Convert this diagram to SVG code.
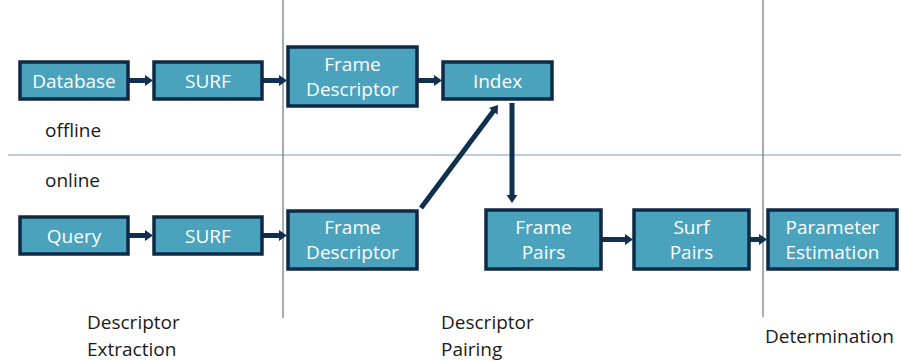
<svg xmlns="http://www.w3.org/2000/svg" width="901" height="361" viewBox="0 0 901 361">
  <style>
    .box { fill: #4aa2bd; stroke: #0e2a47; stroke-width: 3.5; }
    .btxt { font-family: "Open Sans", "Liberation Sans", sans-serif; font-size: 19px; fill: #ffffff; text-anchor: middle; }
    .lbl { font-family: "Open Sans", "Liberation Sans", sans-serif; font-size: 19px; fill: #1a1a1a; }
    .conn { stroke: #10304f; stroke-width: 5; fill: none; marker-end: url(#head); }
    .sep { stroke: #555a60; stroke-width: 1; }
    .split { stroke: #a9bccf; stroke-width: 1.5; }
  </style>
  <defs>
    <marker id="head" markerWidth="2" markerHeight="4" refX="0.6" refY="2" orient="auto" markerUnits="strokeWidth">
      <path d="M0,0.9 L1.6,2 L0,3.1 Z" fill="#10304f"/>
    </marker>
  </defs>
  <rect width="901" height="361" fill="#ffffff"/>

  <!-- stage separators -->
  <g id="separators">
    <line class="split" x1="8" y1="155" x2="901" y2="155"/>
    <line class="sep" x1="283" y1="0" x2="283" y2="318"/>
    <line class="sep" x1="763" y1="0" x2="763" y2="317"/>
  </g>

  <!-- connectors -->
  <g id="connectors">
    <line class="conn" x1="128" y1="80.5" x2="148" y2="80.5"/>
    <line class="conn" x1="262" y1="80.5" x2="282" y2="80.5"/>
    <line class="conn" x1="417" y1="80.5" x2="437" y2="80.5"/>
    <line class="conn" x1="128" y1="235.5" x2="148" y2="235.5"/>
    <line class="conn" x1="262" y1="235.5" x2="282" y2="235.5"/>
    <line class="conn" x1="601" y1="239.5" x2="628" y2="239.5"/>
    <line class="conn" x1="749" y1="239.5" x2="762" y2="239.5"/>
    <line class="conn" x1="421" y1="208" x2="495" y2="109"/>
    <line class="conn" x1="512" y1="103" x2="512" y2="198"/>
  </g>

  <!-- offline pipeline -->
  <g id="database">
    <rect class="box" x="20" y="62" width="108" height="37"/>
    <text class="btxt" x="74" y="88">Database</text>
  </g>
  <g id="surf-offline">
    <rect class="box" x="154" y="62" width="108" height="37"/>
    <text class="btxt" x="208" y="88">SURF</text>
  </g>
  <g id="frame-descriptor-offline">
    <rect class="box" x="288" y="47" width="129" height="59"/>
    <text class="btxt" x="352.5" y="71">Frame</text>
    <text class="btxt" x="352.5" y="96">Descriptor</text>
  </g>
  <g id="index">
    <rect class="box" x="443" y="62" width="109" height="37"/>
    <text class="btxt" x="497.5" y="88">Index</text>
  </g>

  <!-- online pipeline -->
  <g id="query">
    <rect class="box" x="20" y="217" width="108" height="37"/>
    <text class="btxt" x="74" y="243">Query</text>
  </g>
  <g id="surf-online">
    <rect class="box" x="154" y="217" width="108" height="37"/>
    <text class="btxt" x="208" y="243">SURF</text>
  </g>
  <g id="frame-descriptor-online">
    <rect class="box" x="288" y="211" width="129" height="58"/>
    <text class="btxt" x="352.5" y="234">Frame</text>
    <text class="btxt" x="352.5" y="259">Descriptor</text>
  </g>
  <g id="frame-pairs">
    <rect class="box" x="486" y="210" width="115" height="59"/>
    <text class="btxt" x="543.5" y="234">Frame</text>
    <text class="btxt" x="543.5" y="259">Pairs</text>
  </g>
  <g id="surf-pairs">
    <rect class="box" x="634" y="210" width="115" height="59"/>
    <text class="btxt" x="691.5" y="234">Surf</text>
    <text class="btxt" x="691.5" y="259">Pairs</text>
  </g>
  <g id="parameter-estimation">
    <rect class="box" x="768" y="210" width="129" height="59"/>
    <text class="btxt" x="832.5" y="234">Parameter</text>
    <text class="btxt" x="832.5" y="259">Estimation</text>
  </g>

  <!-- mode and stage labels -->
  <g id="labels">
    <text class="lbl" x="45" y="137">offline</text>
    <text class="lbl" x="45" y="187">online</text>
    <text class="lbl" x="87" y="329">Descriptor</text>
    <text class="lbl" x="87" y="356">Extraction</text>
    <text class="lbl" x="441" y="329">Descriptor</text>
    <text class="lbl" x="441" y="356">Pairing</text>
    <text class="lbl" x="765" y="343">Determination</text>
  </g>
</svg>
